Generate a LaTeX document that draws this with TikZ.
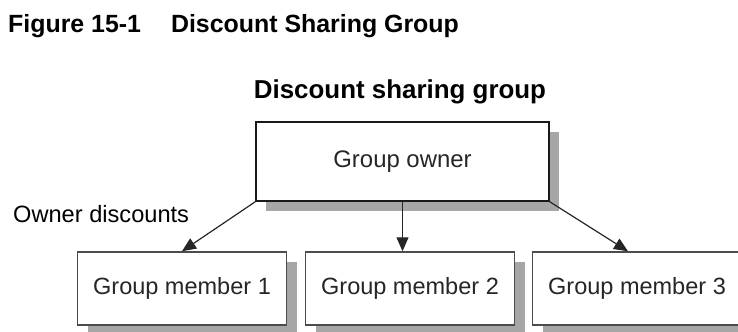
\documentclass[tikz,border=0pt]{standalone}
\usepackage{fontspec}
\setmainfont{Liberation Sans}
\usetikzlibrary{arrows.meta, positioning, shadows}
\tikzstyle{owner} = [rectangle, minimum width=293bp, minimum height=79bp, text centered, draw=black!90, line width=1.5bp, fill=white, text=black!85, drop shadow={shadow xshift=10bp, shadow yshift=-10bp, opacity=1, fill=black!35}, font=\fontsize{24}{28}\selectfont]
\tikzstyle{member} = [rectangle, minimum width=209bp, minimum height=73bp, text centered, draw=black!70, line width=1.5bp, fill=white, text=black!85, drop shadow={shadow xshift=10bp, shadow yshift=-10bp, opacity=1, fill=black!35}, font=\fontsize{23.6}{28}\selectfont]
\tikzstyle{arrow} = [line width=1.2bp, draw=black!85, -{Triangle[length=14bp,width=12bp]}]
\begin{document}
\begin{tikzpicture}[x=1bp, y=-1bp]
\useasboundingbox (0,0) rectangle (738,331);
\node (fig) [anchor=base west, inner sep=0pt, font=\fontsize{25}{30}\selectfont\bfseries] at (8,32) {Figure 15-1\hspace{30bp}Discount Sharing Group};
\node (title) [anchor=base, inner sep=0pt, font=\fontsize{26}{30}\selectfont\bfseries] at (400,98) {Discount sharing group};
\node (owner) [owner] at (402.5,161.5) {Group owner};
\node (m1) [member] at (182,288.5) {Group member 1};
\node (m2) [member] at (410,288.5) {Group member 2};
\node (m3) [member] at (637,288.5) {Group member 3};
\node (disc) [anchor=base west, inner sep=0pt, font=\fontsize{23.7}{28}\selectfont] at (13,222) {Owner discounts};

\draw [arrow] (owner.south west) -- (m1.north);
\draw [arrow] (owner.south) -- (owner.south |- m2.north);
\draw [arrow] (owner.south east) -- ([xshift=-9bp]m3.north);
\end{tikzpicture}
\end{document}
